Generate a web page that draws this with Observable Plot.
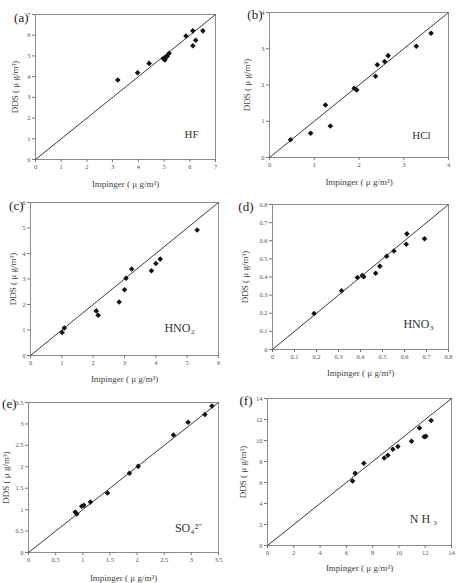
<!DOCTYPE html>
<html>
<head>
<meta charset="utf-8">
<script src="https://cdn.jsdelivr.net/npm/d3@7"></script>
<script src="https://cdn.jsdelivr.net/npm/@observablehq/plot@0.6"></script>
<style>
  body { margin: 0; background: #fff; }
  #fig { position: relative; width: 460px; height: 583px; overflow: hidden; background: #fff; }
  .panel { position: absolute; }
  .panel svg { overflow: visible; font-family: "Liberation Serif", "Times New Roman", serif; }
</style>
</head>
<body>
<div id="fig"></div>
<script>
// Impinger vs. denuder difference sampler (DDS) concentrations, µg/m³

// (a) HF
const hfImpinger = [3.20, 3.97, 4.42, 4.97, 5.03, 5.07, 5.12, 5.20, 5.85, 6.12, 6.12, 6.23, 6.51];
const hfDDS      = [3.84, 4.19, 4.64, 4.87, 4.80, 4.93, 4.98, 5.13, 5.96, 6.21, 5.49, 5.76, 6.21];
const hfTicks    = [0, 1, 2, 3, 4, 5, 6, 7];

// (b) HCl
const hclImpinger = [0.47, 0.92, 1.25, 1.36, 1.89, 1.95, 2.37, 2.41, 2.57, 2.65, 3.28, 3.61];
const hclDDS      = [0.49, 0.67, 1.45, 0.87, 1.91, 1.86, 2.24, 2.56, 2.65, 2.81, 3.07, 3.43];
const hclTicks    = [0, 1, 2, 3, 4];

// (c) HNO2
const hno2Impinger = [1.01, 1.08, 2.10, 2.16, 2.83, 3.00, 3.05, 3.23, 3.86, 4.00, 4.14, 5.32];
const hno2DDS      = [0.90, 1.08, 1.75, 1.58, 2.10, 2.58, 3.03, 3.39, 3.32, 3.61, 3.78, 4.92];
const hno2Ticks    = [0, 1, 2, 3, 4, 5, 6];

// (d) HNO3
const hno3Impinger = [0.189, 0.314, 0.386, 0.408, 0.415, 0.469, 0.488, 0.519, 0.552, 0.608, 0.611, 0.691];
const hno3DDS      = [0.199, 0.324, 0.397, 0.408, 0.401, 0.421, 0.460, 0.515, 0.543, 0.581, 0.638, 0.611];
const hno3Ticks    = [0, 0.1, 0.2, 0.3, 0.4, 0.5, 0.6, 0.7, 0.8];

// (e) SO4 2-
const so4Impinger = [0.86, 0.89, 0.98, 1.02, 1.14, 1.455, 1.86, 2.02, 2.67, 2.94, 3.25, 3.38];
const so4DDS      = [0.945, 0.90, 1.08, 1.10, 1.18, 1.39, 1.85, 2.01, 2.74, 3.04, 3.22, 3.42];
const so4Ticks    = [0, 0.5, 1, 1.5, 2, 2.5, 3, 3.5];

// (f) NH3
const nh3Impinger = [6.47, 6.67, 7.33, 8.88, 9.16, 9.54, 9.92, 10.96, 11.57, 11.92, 12.05, 12.45];
const nh3DDS      = [6.14, 6.87, 7.83, 8.34, 8.59, 9.16, 9.42, 9.93, 11.20, 10.35, 10.40, 11.90];
const nh3Ticks    = [0, 2, 4, 6, 8, 10, 12, 14];

const xTitle = "Impinger ( \u03bc g/m\u00b3)";
const yTitle = "DDS ( \u03bc g/m\u00b3)";

const serif = "Liberation Serif, Times New Roman, serif";

// Page layout: box = svg rect, frame = plot area, all in page pixels
const panels = [
  {tag: "(a)", name: "HF",     x: hfImpinger,   y: hfDDS,   ticks: hfTicks,
   box: [0, 0, 230, 192],   frame: [35, 14, 215, 159],  tagAt: [28, 17],  yLabX: 15,  xLabY: 184, noteAt: [191, 134], noteSize: 11},
  {tag: "(b)", name: "HCl",    x: hclImpinger,  y: hclDDS,  ticks: hclTicks,
   box: [230, 0, 230, 192], frame: [269, 12, 448, 157], tagAt: [262, 14], yLabX: 247, xLabY: 182, noteAt: [421, 135], noteSize: 11},
  {tag: "(c)", name: "HNO\u2082", x: hno2Impinger, y: hno2DDS, ticks: hno2Ticks,
   box: [0, 192, 230, 193], frame: [30, 202, 218, 355], tagAt: [23, 205], yLabX: 13,  xLabY: 379, noteAt: [179, 328], noteSize: 12},
  {tag: "(d)", name: "HNO\u2083", x: hno3Impinger, y: hno3DDS, ticks: hno3Ticks,
   box: [230, 192, 230, 193], frame: [272, 204, 448, 349], tagAt: [253, 206], yLabX: 245, xLabY: 373, noteAt: [418, 324], noteSize: 12},
  {tag: "(e)", name: "SO\u2084\u00b2\u207b", x: so4Impinger, y: so4DDS, ticks: so4Ticks,
   box: [0, 385, 230, 198], frame: [28, 402, 218, 552], tagAt: [16, 403], yLabX: 6,   xLabY: 578, noteAt: [188, 528], noteSize: 12},
  {tag: "(f)", name: "N H \u2083", x: nh3Impinger, y: nh3DDS, ticks: nh3Ticks,
   box: [230, 385, 230, 198], frame: [267, 398, 451, 545], tagAt: [252, 400], yLabX: 243, xLabY: 568, noteAt: [423, 519], noteSize: 12}
];

const fig = document.getElementById("fig");
const fmt = d => String(d);

for (const p of panels) {
  const [bx, by, bw, bh] = p.box;
  const [fx0, fy0, fx1, fy1] = p.frame;
  const max = p.ticks[p.ticks.length - 1];
  const idx = d3.range(p.x.length);

  const chart = Plot.plot({
    width: bw,
    height: bh,
    marginLeft: fx0 - bx,
    marginTop: fy0 - by,
    marginRight: bx + bw - fx1,
    marginBottom: by + bh - fy1,
    x: {domain: [0, max]},
    y: {domain: [0, max]},
    style: {background: "transparent", color: "#555", fontFamily: serif, overflow: "visible"},
    marks: [
      Plot.frame({stroke: "#8c8c8c", strokeWidth: 1}),
      Plot.axisX(p.ticks, {tickSize: 3, tickPadding: 2, fontSize: 6.5, tickFormat: fmt, label: null, stroke: "#777"}),
      Plot.axisY(p.ticks, {tickSize: 3, tickPadding: 2, fontSize: 6.5, tickFormat: fmt, label: null, stroke: "#777"}),
      // 1:1 line
      Plot.link([max], {x1: 0, y1: 0, x2: d => d, y2: d => d, stroke: "#3a3a3a", strokeWidth: 1}),
      Plot.dot(idx, {x: i => p.x[i], y: i => p.y[i], symbol: "diamond2", r: 2.5, fill: "#111", stroke: "none"}),
      // panel tag
      Plot.text([p.tag], {frameAnchor: "top-left", dx: p.tagAt[0] - fx0, dy: p.tagAt[1] - fy0,
        textAnchor: "end", lineAnchor: "middle", fontSize: 13, fill: "#222"}),
      // axis titles
      Plot.text([xTitle], {frameAnchor: "bottom", dy: p.xLabY - fy1, lineAnchor: "middle",
        fontSize: 9, fill: "#444"}),
      Plot.text([yTitle], {frameAnchor: "left", dx: p.yLabX - fx0, rotate: -90, lineAnchor: "middle",
        textAnchor: "middle", fontSize: 9, fill: "#444"}),
      // species name
      Plot.text([p.name], {frameAnchor: "bottom-right", dx: p.noteAt[0] - fx1, dy: p.noteAt[1] - fy1,
        textAnchor: "middle", lineAnchor: "middle", fontSize: p.noteSize, fill: "#333"})
    ]
  });

  const holder = document.createElement("div");
  holder.className = "panel";
  holder.style.left = bx + "px";
  holder.style.top = by + "px";
  holder.appendChild(chart);
  fig.appendChild(holder);
}
</script>
</body>
</html>
